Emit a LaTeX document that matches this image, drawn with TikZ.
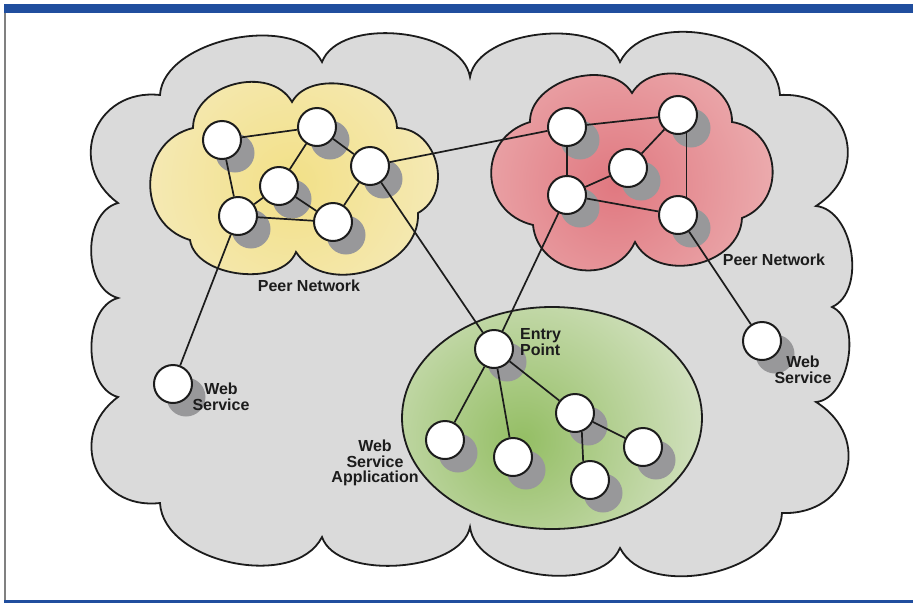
\documentclass[tikz,border=0pt]{standalone}
\usepackage{fontspec}
\setmainfont{Liberation Sans}
\pgfdeclarelayer{bglayer}
\pgfdeclarelayer{shadowlayer}
\pgfdeclarelayer{edgelayer}
\pgfsetlayers{bglayer,shadowlayer,edgelayer,main}
\definecolor{cloudgray}{RGB}{218,218,218}
\definecolor{yelout}{RGB}{246,237,200}
\definecolor{yelin}{RGB}{242,224,135}
\definecolor{redout}{RGB}{241,196,196}
\definecolor{redin}{RGB}{224,120,128}
\definecolor{grnout}{RGB}{230,236,220}
\definecolor{grnin}{RGB}{148,190,100}
\definecolor{shadowc}{RGB}{152,152,154}
\definecolor{frameblue}{RGB}{32,78,158}
\definecolor{inkc}{RGB}{28,28,28}
\tikzset{
  peer/.style={circle, draw=inkc, line width=2pt, fill=white, minimum size=38pt, inner sep=0pt},
  link/.style={draw=inkc, line width=1.7pt},
  outline/.style={draw=inkc, line width=1.8pt},
  lbl/.style={font=\fontsize{16}{15.5}\selectfont\bfseries, text=inkc, inner sep=0pt, align=center},
  bump/.style={bend left=75, looseness=#1},
}
\newcommand\bigcloudpath{(160,95) to[bump=0.87] (322,62) to[bump=0.85] (470,77) to[bump=0.83] (620,62)
  to[bump=0.97] (780,95) to[bump=1.5] (816,206) to[bump=0.95] (832,307) to[bump=0.9] (816,402)
  to[bump=1.5] (782,513) to[bump=0.93] (620,548) to[bump=0.87] (470,527) to[bump=0.8] (322,537)
  to[bump=0.93] (160,503) to[bump=1.45] (118,397) to[bump=0.95] (118,298) to[bump=1.0] (118,203)
  to[bump=1.45] (160,95) -- cycle}
\newcommand\yelcloudpath{(193,128) to[bump=1.1] (292,102) to[bump=0.98] (397,128) to[bump=1.2] (418,213)
  to[bump=1.1] (296,252) to[bump=0.92] (190,240) to[bump=1.3] (193,128) -- cycle}
\newcommand\redcloudpath{(530,122) to[bump=1.02] (632,93) to[bump=1.1] (732,122) to[bump=1.3] (742,218)
  to[bump=1.12] (635,242) to[bump=1.25] (533,225) to[bump=1.38] (530,122) -- cycle}
\newcommand\grnpath{(552,418) ellipse [x radius=150, y radius=111]}
\begin{document}
\begin{tikzpicture}[x=1pt,y=-1pt]
\useasboundingbox (0,0) rectangle (913,603);
\begin{pgfonlayer}{bglayer}
  \fill[white] (0,0) rectangle (913,603);
  \fill[frameblue] (4,4) rectangle (913,13);
  \fill[frameblue] (4,600) rectangle (913,603);
  \draw[gray, line width=1.2pt] (5,13) -- (5,600);
  \path[outline, fill=cloudgray] \bigcloudpath;
  \begin{scope}
    \clip \yelcloudpath;
    \fill[yelout] (0,0) rectangle (913,603);
    \shade[inner color=yelin, outer color=yelout] (292,182) circle (210);
  \end{scope}
  \path[outline] \yelcloudpath;
  \begin{scope}
    \clip \redcloudpath;
    \fill[redout] (0,0) rectangle (913,603);
    \shade[inner color=redin, outer color=redout] (615,185) circle (240);
  \end{scope}
  \path[outline] \redcloudpath;
  \begin{scope}
    \clip \grnpath;
    \fill[grnout] (0,0) rectangle (913,603);
    \shade[inner color=grnin, outer color=grnout] (522,440) circle (240);
  \end{scope}
  \path[outline] \grnpath;
\end{pgfonlayer}

% nodes
\node[peer] (Y1) at (222,140) {};
\node[peer] (Y2) at (317,127) {};
\node[peer] (Y3) at (370,166) {};
\node[peer] (Y4) at (279,186) {};
\node[peer] (Y5) at (238,216) {};
\node[peer] (Y6) at (333,222) {};
\node[peer] (R1) at (567,127) {};
\node[peer] (R2) at (678,115) {};
\node[peer] (R3) at (628,168) {};
\node[peer] (R4) at (567,195) {};
\node[peer] (R5) at (678,215) {};
\node[peer] (E)  at (494,349) {};
\node[peer] (G1) at (445,440) {};
\node[peer] (G2) at (513,457) {};
\node[peer] (G3) at (575,413) {};
\node[peer] (G4) at (590,480) {};
\node[peer] (G5) at (643,447) {};
\node[peer] (W1) at (173,384) {};
\node[peer] (W2) at (762,341) {};

\begin{pgfonlayer}{shadowlayer}
  \foreach \n in {Y1,Y2,Y3,Y4,Y5,Y6,R1,R2,R3,R4,R5,E,G1,G2,G3,G4,G5,W1,W2}
    \fill[shadowc] ([shift={(13,13)}]\n.center) circle (19.5);
\end{pgfonlayer}

\begin{pgfonlayer}{edgelayer}
  \draw[link] (Y1) -- (Y2);
  \draw[link] (Y1) -- (Y5);
  \draw[link] (Y2) -- (Y3);
  \draw[link] (Y2) -- (Y4);
  \draw[link] (Y4) -- (Y5);
  \draw[link] (Y4) -- (Y6);
  \draw[link] (Y5) -- (Y6);
  \draw[link] (Y3) -- (Y6);
  \draw[link] (Y3) -- (R1);
  \draw[link] (Y3) -- (E);
  \draw[link] (Y5) -- (W1);
  \draw[link] (R1) -- (R2);
  \draw[link] (R1) -- (R4);
  \draw[link] (R2) -- (R3);
  \draw[link] (R2.-65) -- (R5.65);
  \draw[link] (R3) -- (R4);
  \draw[link] (R4) -- (R5);
  \draw[link] (R4) -- (E);
  \draw[link] (R5) -- (W2);
  \draw[link] (E) -- (G1);
  \draw[link] (E) -- (G2);
  \draw[link] (E) -- (G3);
  \draw[link] (G3.-70) -- (G4.110);
  \draw[link] (G3) -- (G5);
\end{pgfonlayer}

% labels
\node[lbl] (lpn1) at (309,286) {Peer Network};
\node[lbl] (lpn2) at (774,260) {Peer Network};
\node[lbl, align=left, anchor=west] (lep) at (520,342) {Entry\\Point};
\node[lbl] (lws1) at (221,397) {Web\\Service};
\node[lbl] (lws2) at (803,370) {Web\\Service};
\node[lbl] (lwsa) at (375,463) {Web\\Service\\Application};
\end{tikzpicture}
\end{document}
